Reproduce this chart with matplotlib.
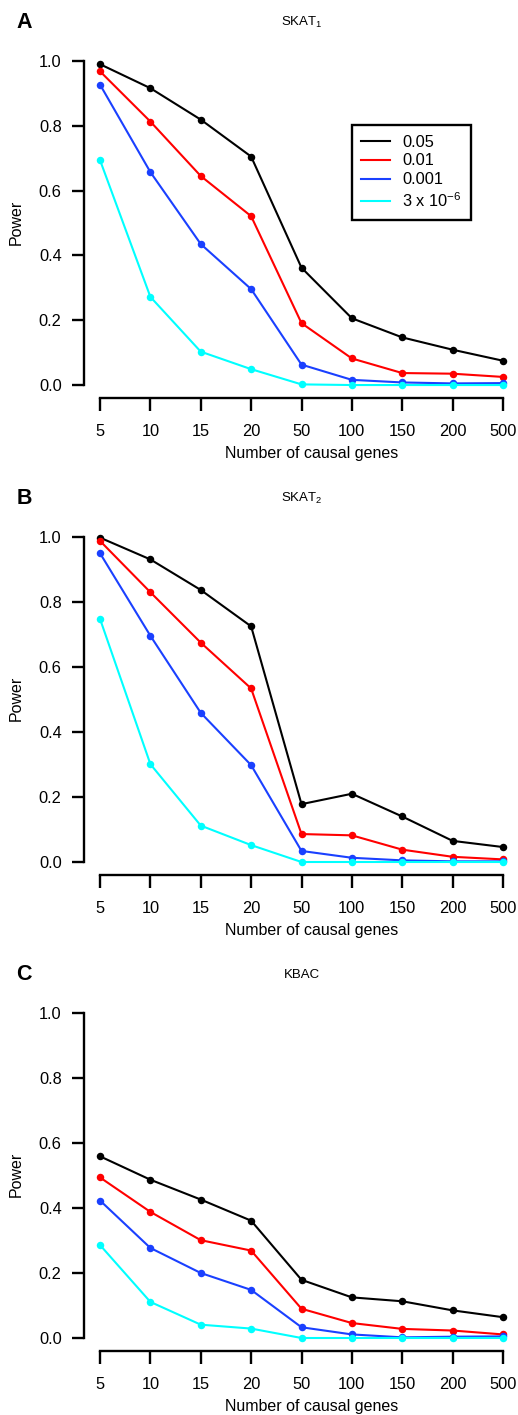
import matplotlib
matplotlib.use('Agg')
import matplotlib.pyplot as plt
import numpy as np
from matplotlib.lines import Line2D

plt.rcParams['font.family'] = ['Liberation Sans', 'DejaVu Sans']
plt.rcParams['mathtext.default'] = 'regular'

# -- datos
genes = ['5', '10', '15', '20', '50', '100', '150', '200', '500']
niveles = ['0.05', '0.01', '0.001', '3 x 10$^{-6}$']
colores = ['black', '#ff0000', '#1a40ff', '#00ffff']

paneles = ['A', 'B', 'C']
titulos = ['SKAT$_1$', 'SKAT$_2$', 'KBAC']

skat1_005 = [0.990, 0.916, 0.819, 0.705, 0.362, 0.206, 0.147, 0.109, 0.075]
skat1_001 = [0.968, 0.813, 0.645, 0.521, 0.191, 0.082, 0.037, 0.035, 0.025]
skat1_0001 = [0.927, 0.657, 0.435, 0.296, 0.063, 0.016, 0.008, 0.005, 0.006]
skat1_3e6 = [0.694, 0.272, 0.103, 0.049, 0.002, 0.000, 0.000, 0.000, 0.000]

skat2_005 = [0.998, 0.931, 0.837, 0.725, 0.178, 0.210, 0.140, 0.065, 0.046]
skat2_001 = [0.988, 0.830, 0.675, 0.534, 0.086, 0.082, 0.038, 0.016, 0.008]
skat2_0001 = [0.950, 0.696, 0.459, 0.298, 0.034, 0.013, 0.005, 0.002, 0.002]
skat2_3e6 = [0.748, 0.301, 0.112, 0.052, 0.000, 0.000, 0.000, 0.000, 0.000]

kbac_005 = [0.559, 0.487, 0.426, 0.361, 0.179, 0.125, 0.113, 0.085, 0.064]
kbac_001 = [0.494, 0.388, 0.301, 0.269, 0.090, 0.046, 0.028, 0.023, 0.011]
kbac_0001 = [0.423, 0.277, 0.200, 0.148, 0.033, 0.011, 0.002, 0.004, 0.005]
kbac_3e6 = [0.286, 0.111, 0.041, 0.029, 0.000, 0.000, 0.000, 0.000, 0.000]

series = [
    [skat1_005, skat1_001, skat1_0001, skat1_3e6],
    [skat2_005, skat2_001, skat2_0001, skat2_3e6],
    [kbac_005, kbac_001, kbac_0001, kbac_3e6],
]

W, H = 518, 1415
fig = plt.figure(figsize=(W / 100, H / 100), dpi=100)

# (arriba, abajo) de cada panel en pixeles
cajas = [(48, 398), (524, 875), (1000, 1351)]
x0, x1 = 83.9, 519.1

xpos = np.arange(1, len(genes) + 1)

for i, (top, bot) in enumerate(cajas):
    ax = fig.add_axes([x0 / W, 1 - bot / H, (x1 - x0) / W, (bot - top) / H])
    for datos, col in zip(series[i], colores):
        ax.plot(xpos, datos, color=col, lw=1.5, marker='o', ms=5.4,
                markeredgewidth=0, solid_capstyle='round')

    ax.set_xlim(0.68, 9.32)
    ax.set_ylim(-0.04, 1.04)
    for s in ['top', 'right']:
        ax.spines[s].set_visible(False)
    ax.spines['left'].set_bounds(0, 1)
    ax.spines['bottom'].set_bounds(1, 9)
    ax.spines['left'].set_linewidth(1.7)
    ax.spines['bottom'].set_linewidth(1.7)

    ax.set_xticks(xpos)
    ax.set_xticklabels(genes)
    ax.set_yticks([0, 0.2, 0.4, 0.6, 0.8, 1.0])
    ax.set_yticklabels(['0.0', '0.2', '0.4', '0.6', '0.8', '1.0'])
    ax.tick_params(axis='both', length=9, width=1.7, labelsize=11.8, direction='out')
    ax.tick_params(axis='x', pad=10)
    ax.tick_params(axis='y', pad=7)

    ax.set_xlabel('Number of causal genes', fontsize=11.5)
    ax.xaxis.set_label_coords(0.523, -0.138)
    ax.set_ylabel('Power', fontsize=11.5)
    ax.yaxis.set_label_coords(-0.138, 0.503)

    ax.text(0.5, 1.072, titulos[i], transform=ax.transAxes, ha='center',
            va='center', fontsize=9.5)
    ax.text(-0.137, 1.072, paneles[i], transform=ax.transAxes, ha='center',
            va='center', fontsize=15.5, fontweight='bold')

    if i == 0:
        handles = [Line2D([0], [0], color=c, lw=1.5) for c in colores]
        leg = ax.legend(handles, niveles, loc='upper left',
                        bbox_to_anchor=(0.616, 0.780), borderaxespad=0,
                        fancybox=False, edgecolor='black', framealpha=1,
                        fontsize=11.8, handlelength=1.75, handletextpad=0.75,
                        labelspacing=0.24, borderpad=0.58)
        leg.get_frame().set_linewidth(1.7)

fig.savefig('out.png', dpi=100)
